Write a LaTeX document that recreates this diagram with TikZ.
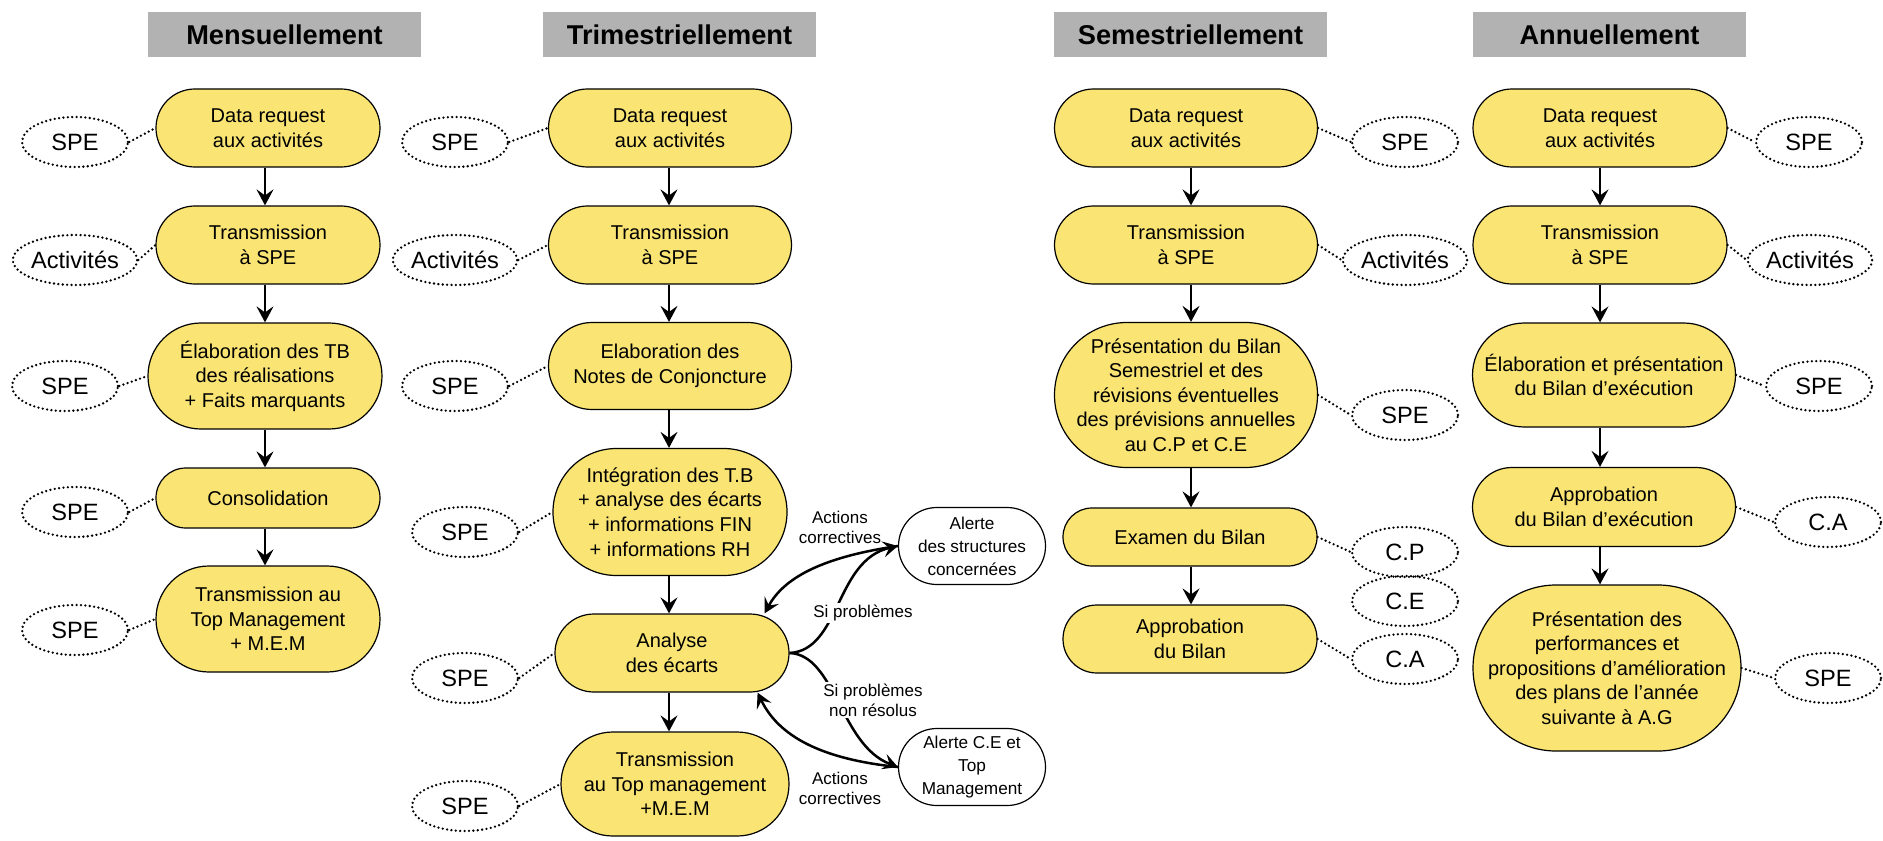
\documentclass[tikz,border=0pt]{standalone}
\usepackage{fontspec}
\setmainfont{Liberation Sans}
\usetikzlibrary{arrows.meta,shapes.geometric}
\definecolor{boxyellow}{RGB}{249,228,116}
\definecolor{hdrgray}{RGB}{178,178,178}

\tikzset{
  hdr/.style={fill=hdrgray, minimum width=136.5pt, minimum height=22.5pt, inner sep=0pt,
    font=\bfseries\fontsize{13.6}{16}\selectfont},
  stepbox/.style n args={3}{draw, line width=0.6pt, fill=boxyellow, align=center, inner sep=0pt,
    minimum width=#1, minimum height=#2, rounded corners=#3,
    font=\fontsize{10}{12.3}\selectfont},
  actor/.style={ellipse, draw, line width=1.3pt, dash pattern=on 0pt off 2.2pt, line cap=round,
    minimum width=53pt, minimum height=25pt, inner sep=0pt,
    font=\fontsize{11.8}{13}\selectfont},
  link/.style={line width=1.3pt, dash pattern=on 0pt off 2.2pt, line cap=round},
  flow/.style={line width=1pt, -{Stealth[length=8pt,width=8.5pt,inset=3pt]}},
  loop/.style={line width=1.25pt, -{Stealth[length=7.5pt,width=8pt,inset=3pt]}},
  alertbox/.style={draw, line width=0.6pt, fill=white, align=center, inner sep=0pt,
    minimum width=73.5pt, minimum height=38.5pt, rounded corners=19.2pt,
    font=\fontsize{8.6}{11.5}\selectfont},
  note/.style={align=center, inner sep=1pt, font=\fontsize{8.5}{10}\selectfont},
}

\begin{document}
\begin{tikzpicture}[x=0.5pt,y=-0.5pt]
\useasboundingbox (0,0) rectangle (1883,840);

% column headers
\node[hdr] (h1) at (284.5,34.5) {Mensuellement};
\node[hdr] (h2) at (679.5,34.5) {Trimestriellement};
\node[hdr] (h3) at (1190.5,34.5) {Semestriellement};
\node[hdr] (h4) at (1609.5,34.5) {Annuellement};

% axes of the vertical flows
\coordinate (xa) at (265,0);
\coordinate (xb) at (669,0);
\coordinate (xc) at (1191,0);
\coordinate (xd) at (1600,0);

% ---- monthly ----
\node[stepbox={112pt}{39pt}{19.45pt}] (m1) at (268,128) {Data request\\aux activités};
\node[stepbox={112pt}{39pt}{19.45pt}] (m2) at (268,245) {Transmission\\à SPE};
\node[stepbox={117pt}{53pt}{26.45pt}] (m3) at (265,376) {Élaboration des TB\\des réalisations\\+ Faits marquants};
\node[stepbox={112pt}{30pt}{14.95pt}] (m4) at (268,498) {Consolidation};
\node[stepbox={112pt}{53pt}{26.45pt}] (m5) at (268,619) {Transmission au\\Top Management\\+ M.E.M};

\node[actor] (ma1) at (75,142) {SPE};
\node[actor] (ma2) at (75,260) {Activités};
\node[actor] (ma3) at (65,386) {SPE};
\node[actor] (ma4) at (75,512) {SPE};
\node[actor] (ma5) at (75,630) {SPE};

% ---- quarterly ----
\node[stepbox={121.5pt}{39pt}{19.45pt}] (t1) at (670,128) {Data request\\aux activités};
\node[stepbox={121.5pt}{39pt}{19.45pt}] (t2) at (670,245) {Transmission\\à SPE};
\node[stepbox={121.5pt}{43.5pt}{21.7pt}] (t3) at (670,366) {Elaboration des\\Notes de Conjoncture};
\node[stepbox={117pt}{63.5pt}{31.7pt}] (t4) at (670,512) {Intégration des T.B\\+ analyse des écarts\\+ informations FIN\\+ informations RH};
\node[stepbox={117pt}{39pt}{19.45pt}] (t5) at (672,653) {Analyse\\des écarts};
\node[stepbox={114pt}{52pt}{25.95pt}] (t6) at (675,784) {Transmission\\au Top management\\+M.E.M};

\node[actor] (ta1) at (455,142) {SPE};
\node[actor] (ta2) at (455,260) {Activités};
\node[actor] (ta3) at (455,386) {SPE};
\node[actor] (ta4) at (465,532) {SPE};
\node[actor] (ta5) at (465,678) {SPE};
\node[actor] (ta6) at (465,806) {SPE};

\node[alertbox] (al1) at (972,546) {Alerte\\des structures\\concernées};
\node[alertbox] (al2) at (972,767) {Alerte C.E et\\Top\\Management};

% ---- half-yearly ----
\node[stepbox={131.5pt}{39pt}{19.45pt}] (s1) at (1186,128) {Data request\\aux activités};
\node[stepbox={131.5pt}{39pt}{19.45pt}] (s2) at (1186,245) {Transmission\\à SPE};
\node[stepbox={131.5pt}{72.5pt}{36.2pt}] (s3) at (1186,395) {Présentation du Bilan\\Semestriel et des\\révisions éventuelles\\des prévisions annuelles\\au C.P et C.E};
\node[stepbox={127pt}{29pt}{14.45pt}] (s4) at (1190,537) {Examen du Bilan};
\node[stepbox={127pt}{34pt}{16.95pt}] (s5) at (1190,639) {Approbation\\du Bilan};

\node[actor] (sa1) at (1405,142) {SPE};
\node[actor] (sa2) at (1405,260) {Activités};
\node[actor] (sa3) at (1405,415) {SPE};
\node[actor] (sa4) at (1405,552) {C.P};
\node[actor] (sa5) at (1405,601) {C.E};
\node[actor] (sa6) at (1405,659) {C.A};

% ---- yearly ----
\node[stepbox={127pt}{39pt}{19.45pt}] (n1) at (1600,128) {Data request\\aux activités};
\node[stepbox={127pt}{39pt}{19.45pt}] (n2) at (1600,245) {Transmission\\à SPE};
\node[stepbox={131.5pt}{52pt}{25.95pt}] (n3) at (1604,375) {Élaboration et présentation\\du Bilan d’exécution};
\node[stepbox={131.5pt}{39.5pt}{19.7pt}] (n4) at (1604,507) {Approbation\\du Bilan d’exécution};
\node[stepbox={134pt}{83pt}{41.45pt}] (n5) at (1607,668) {Présentation des\\performances et\\propositions d’amélioration\\des plans de l’année\\suivante à A.G};

\node[actor] (na1) at (1809,142) {SPE};
\node[actor] (na2) at (1810,260) {Activités};
\node[actor] (na3) at (1819,386) {SPE};
\node[actor] (na4) at (1828,522) {C.A};
\node[actor] (na5) at (1828,678) {SPE};

% ---- flow arrows ----
\foreach \a/\b in {m1/m2,m2/m3,m3/m4,m4/m5}
  \draw[flow] (\a.south -| xa) -- (\b.north -| xa);
\foreach \a/\b in {t1/t2,t2/t3,t3/t4,t4/t5,t5/t6}
  \draw[flow] (\a.south -| xb) -- (\b.north -| xb);
\foreach \a/\b in {s1/s2,s2/s3,s3/s4,s4/s5}
  \draw[flow] (\a.south -| xc) -- (\b.north -| xc);
\foreach \a/\b in {n1/n2,n2/n3,n3/n4,n4/n5}
  \draw[flow] (\a.south -| xd) -- (\b.north -| xd);

% ---- dotted links to the actors ----
\foreach \e/\s in {ma1/m1,ma2/m2,ma3/m3,ma4/m4,ma5/m5,ta1/t1,ta2/t2,ta3/t3,ta4/t4,ta5/t5,ta6/t6}
  \draw[link] (\e.east) -- (\s.west);
\foreach \s/\e in {s1/sa1,s2/sa2,s3/sa3,s4/sa4,s5/sa6,n1/na1,n2/na2,n3/na3,n4/na4,n5/na5}
  \draw[link] (\s.east) -- (\e.west);

% ---- escalation loops ----
\draw[loop] (t5.east) .. controls +(51,-3) and +(-63,14) .. (al1.west);
\draw[loop] (al1.west) .. controls +(-68,10) and +(21,-39) .. ([xshift=-12.5pt]t5.north east);
\draw[loop] (t5.east) .. controls +(46,2) and +(-58,-22) .. (al2.west);
\draw[loop] (al2.west) .. controls +(-68,-7) and +(23,48) .. ([xshift=-16pt]t5.south east);

\node[note] (l1) at (840,527) {Actions\\correctives};
\node[note, fill=white] (l2) at (863,613) {Si problèmes};
\node[note, fill=white] (l3) at (873,700) {Si problèmes\\non résolus};
\node[note] (l4) at (840,788) {Actions\\correctives};
\end{tikzpicture}
\end{document}
